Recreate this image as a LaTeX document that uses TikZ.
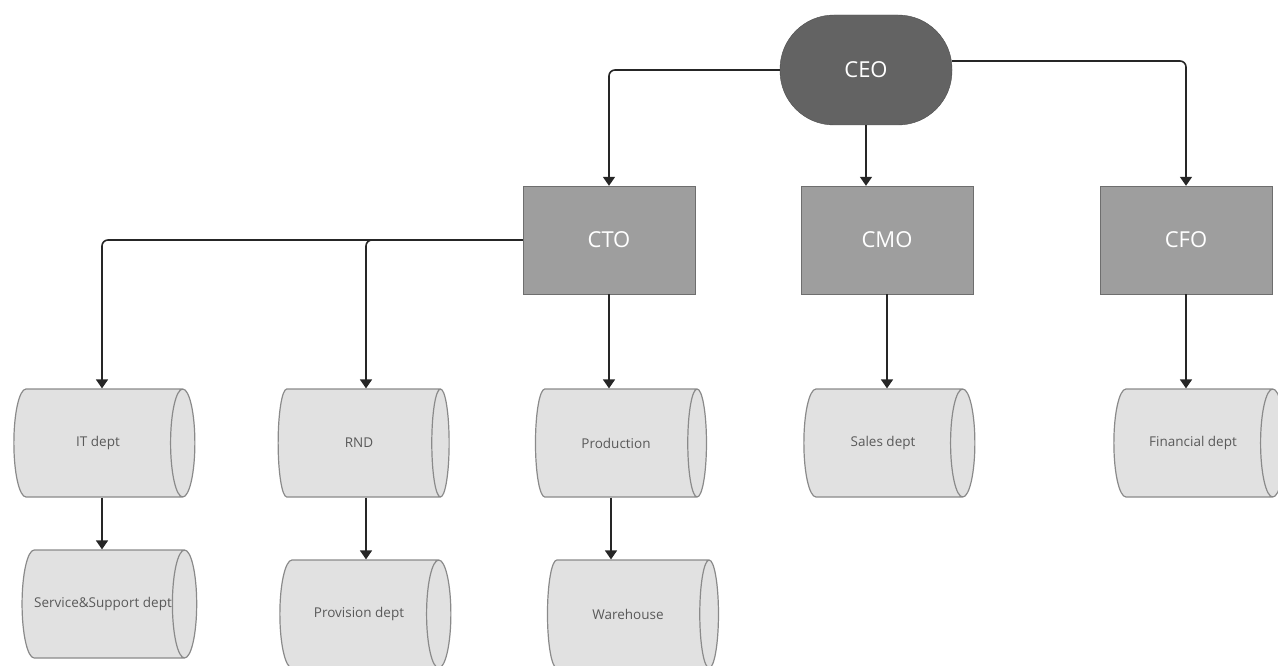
\documentclass[tikz,border=0pt]{standalone}
\usepackage{fontspec}
\setmainfont{Open Sans}
\usetikzlibrary{arrows.meta, shapes.geometric}

\definecolor{ceogray}{HTML}{636363}
\definecolor{chiefgray}{HTML}{9E9E9E}
\definecolor{deptgray}{HTML}{E1E1E1}
\definecolor{rimgray}{HTML}{8A8A8A}
\definecolor{wiregray}{HTML}{262626}

\begin{document}
\begin{tikzpicture}[x=1pt, y=-1pt, >={Triangle[width=12pt, length=9pt]},
  head/.style={draw=ceogray!80!black, fill=ceogray, rounded corners=54pt,
    minimum width=172pt, minimum height=110pt, text=white, font=\fontsize{22}{24}\selectfont},
  chief/.style={draw=rimgray!80!black, fill=chiefgray, minimum width=172pt,
    minimum height=108pt, text=white, font=\fontsize{22}{24}\selectfont},
  dept/.style={cylinder, draw=rimgray, fill=deptgray, line width=1.2pt, aspect=1.8,
    minimum width=108pt, minimum height=171pt, text=black!65, inner sep=0pt,
    font=\fontsize{13.5}{15}\selectfont},
  wire/.style={draw=wiregray, line width=1.6pt, rounded corners=6pt, ->}]
  \useasboundingbox (0,0) rectangle (1278,666);

  % top and chiefs
  \node[head]  (ceo) at (866,70)  {CEO};
  \node[chief] (cto) at (609,240) {CTO};
  \node[chief] (cmo) at (887,240) {CMO};
  \node[chief] (cfo) at (1186,240) {CFO};

  % departments
  \node[dept, minimum height=181pt] (it) at (98,443) {IT dept};
  \node[dept] (rnd)   at (359,443)  {RND};
  \node[dept] (prod)  at (616,443)  {Production};
  \node[dept] (sales) at (883,443)  {Sales dept};
  \node[dept] (fin)   at (1193,443) {Financial dept};
  \node[dept] (svc)   at (103,604)  {Service\&Support dept};
  \node[dept] (prov)  at (359,614)  {Provision dept};
  \node[dept] (ware)  at (628,614)  {Warehouse};

  \draw[wire] (ceo.west) -| (cto.north);
  \draw[wire] (ceo.south) -- (ceo.south |- cmo.north);
  \draw[wire] ([yshift=9pt]ceo.east) -| (cfo.north);
  \draw[wire] (cto.west) -| ([xshift=4pt]it.north);
  \draw[wire] (cto.west) -| ([xshift=7pt]rnd.north);
  \draw[wire] (cto.south) -- (cto.south |- prod.north);
  \draw[wire] (cmo.south) -- (cmo.south |- sales.north);
  \draw[wire] (cfo.south) -- (cfo.south |- fin.north);
  \draw[wire] ([xshift=4pt]it.south) -- ([xshift=4pt]it.south |- svc.north);
  \draw[wire] ([xshift=7pt]rnd.south) -- ([xshift=7pt]rnd.south |- prov.north);
  \draw[wire] ([xshift=-5pt]prod.south) -- ([xshift=-5pt]prod.south |- ware.north);
\end{tikzpicture}
\end{document}
